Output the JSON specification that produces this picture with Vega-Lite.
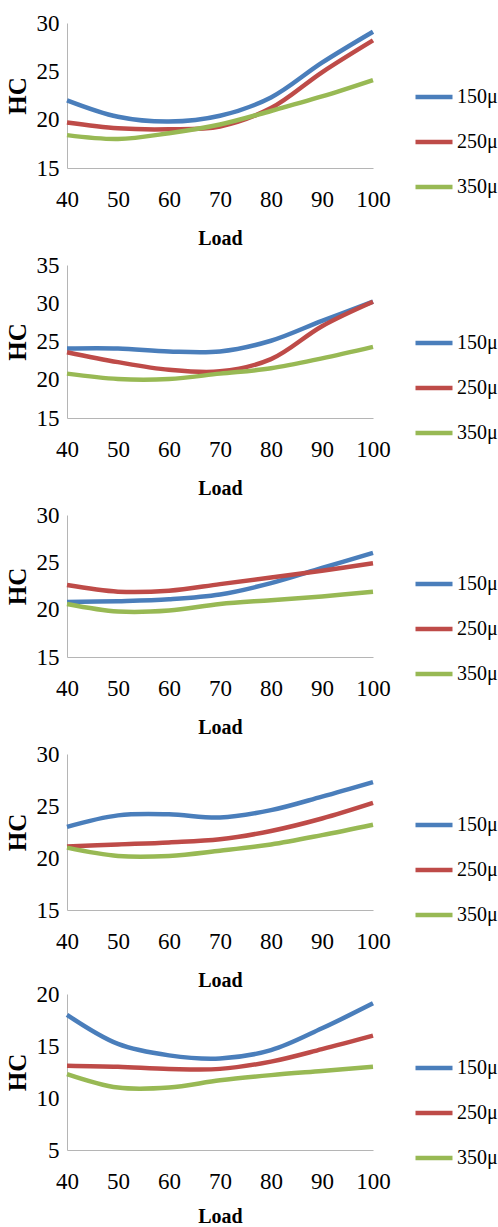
{
  "$schema": "https://vega.github.io/schema/vega-lite/v6.json",
  "padding": {"top": 12, "left": 5, "right": 0, "bottom": 0},
  "background": "white",
  "spacing": -7,
  "resolve": {"scale": {"color": "independent"}},
  "config": {
    "view": {"stroke": null},
    "font": "Liberation Serif",
    "line": {"interpolate": "catmull-rom", "strokeWidth": 4.5},
    "axis": {
      "grid": false,
      "ticks": false,
      "domainColor": "#b5b5b5",
      "domainWidth": 1,
      "labelFont": "Liberation Serif",
      "labelFontSize": 23,
      "labelColor": "#000000",
      "labelFlush": false,
      "labelOverlap": false,
      "titleFont": "Liberation Serif",
      "titleFontWeight": "bold",
      "titleColor": "#000000"
    },
    "axisX": {"labelPadding": 20, "titlePadding": 17, "titleFontSize": 20},
    "axisY": {"labelPadding": 8, "titlePadding": 6, "titleFontSize": 25},
    "legend": {
      "symbolType": "stroke",
      "symbolSize": 1369,
      "symbolStrokeWidth": 5,
      "labelFont": "Liberation Serif",
      "labelFontSize": 20,
      "labelColor": "#000000",
      "rowPadding": 14,
      "labelOffset": 2,
      "padding": 0,
      "offset": 0
    }
  },
  "datasets": {
    "p1": [
      {"load": 40, "size": "150μ", "hc": 22.0}, {"load": 50, "size": "150μ", "hc": 20.3}, {"load": 60, "size": "150μ", "hc": 19.8}, {"load": 70, "size": "150μ", "hc": 20.4}, {"load": 80, "size": "150μ", "hc": 22.3}, {"load": 90, "size": "150μ", "hc": 25.9}, {"load": 100, "size": "150μ", "hc": 29.1},
      {"load": 40, "size": "250μ", "hc": 19.7}, {"load": 50, "size": "250μ", "hc": 19.1}, {"load": 60, "size": "250μ", "hc": 19.0}, {"load": 70, "size": "250μ", "hc": 19.3}, {"load": 80, "size": "250μ", "hc": 21.2}, {"load": 90, "size": "250μ", "hc": 24.9}, {"load": 100, "size": "250μ", "hc": 28.2},
      {"load": 40, "size": "350μ", "hc": 18.4}, {"load": 50, "size": "350μ", "hc": 18.0}, {"load": 60, "size": "350μ", "hc": 18.6}, {"load": 70, "size": "350μ", "hc": 19.5}, {"load": 80, "size": "350μ", "hc": 20.9}, {"load": 90, "size": "350μ", "hc": 22.4}, {"load": 100, "size": "350μ", "hc": 24.1}
    ],
    "p2": [
      {"load": 40, "size": "150μ", "hc": 24.1}, {"load": 50, "size": "150μ", "hc": 24.1}, {"load": 60, "size": "150μ", "hc": 23.7}, {"load": 70, "size": "150μ", "hc": 23.7}, {"load": 80, "size": "150μ", "hc": 25.1}, {"load": 90, "size": "150μ", "hc": 27.7}, {"load": 100, "size": "150μ", "hc": 30.2},
      {"load": 40, "size": "250μ", "hc": 23.6}, {"load": 50, "size": "250μ", "hc": 22.3}, {"load": 60, "size": "250μ", "hc": 21.3}, {"load": 70, "size": "250μ", "hc": 21.1}, {"load": 80, "size": "250μ", "hc": 22.7}, {"load": 90, "size": "250μ", "hc": 27.0}, {"load": 100, "size": "250μ", "hc": 30.2},
      {"load": 40, "size": "350μ", "hc": 20.8}, {"load": 50, "size": "350μ", "hc": 20.1}, {"load": 60, "size": "350μ", "hc": 20.1}, {"load": 70, "size": "350μ", "hc": 20.8}, {"load": 80, "size": "350μ", "hc": 21.5}, {"load": 90, "size": "350μ", "hc": 22.8}, {"load": 100, "size": "350μ", "hc": 24.3}
    ],
    "p3": [
      {"load": 40, "size": "150μ", "hc": 20.8}, {"load": 50, "size": "150μ", "hc": 20.9}, {"load": 60, "size": "150μ", "hc": 21.1}, {"load": 70, "size": "150μ", "hc": 21.6}, {"load": 80, "size": "150μ", "hc": 22.8}, {"load": 90, "size": "150μ", "hc": 24.4}, {"load": 100, "size": "150μ", "hc": 26.0},
      {"load": 40, "size": "250μ", "hc": 22.6}, {"load": 50, "size": "250μ", "hc": 21.9}, {"load": 60, "size": "250μ", "hc": 22.0}, {"load": 70, "size": "250μ", "hc": 22.7}, {"load": 80, "size": "250μ", "hc": 23.4}, {"load": 90, "size": "250μ", "hc": 24.1}, {"load": 100, "size": "250μ", "hc": 24.9},
      {"load": 40, "size": "350μ", "hc": 20.6}, {"load": 50, "size": "350μ", "hc": 19.8}, {"load": 60, "size": "350μ", "hc": 19.9}, {"load": 70, "size": "350μ", "hc": 20.6}, {"load": 80, "size": "350μ", "hc": 21.0}, {"load": 90, "size": "350μ", "hc": 21.4}, {"load": 100, "size": "350μ", "hc": 21.9}
    ],
    "p4": [
      {"load": 40, "size": "150μ", "hc": 23.0}, {"load": 50, "size": "150μ", "hc": 24.1}, {"load": 60, "size": "150μ", "hc": 24.2}, {"load": 70, "size": "150μ", "hc": 23.9}, {"load": 80, "size": "150μ", "hc": 24.6}, {"load": 90, "size": "150μ", "hc": 25.9}, {"load": 100, "size": "150μ", "hc": 27.3},
      {"load": 40, "size": "250μ", "hc": 21.1}, {"load": 50, "size": "250μ", "hc": 21.3}, {"load": 60, "size": "250μ", "hc": 21.5}, {"load": 70, "size": "250μ", "hc": 21.8}, {"load": 80, "size": "250μ", "hc": 22.6}, {"load": 90, "size": "250μ", "hc": 23.8}, {"load": 100, "size": "250μ", "hc": 25.3},
      {"load": 40, "size": "350μ", "hc": 21.0}, {"load": 50, "size": "350μ", "hc": 20.2}, {"load": 60, "size": "350μ", "hc": 20.2}, {"load": 70, "size": "350μ", "hc": 20.7}, {"load": 80, "size": "350μ", "hc": 21.3}, {"load": 90, "size": "350μ", "hc": 22.2}, {"load": 100, "size": "350μ", "hc": 23.2}
    ],
    "p5": [
      {"load": 40, "size": "150μ", "hc": 18.0}, {"load": 50, "size": "150μ", "hc": 15.2}, {"load": 60, "size": "150μ", "hc": 14.1}, {"load": 70, "size": "150μ", "hc": 13.8}, {"load": 80, "size": "150μ", "hc": 14.6}, {"load": 90, "size": "150μ", "hc": 16.7}, {"load": 100, "size": "150μ", "hc": 19.1},
      {"load": 40, "size": "250μ", "hc": 13.1}, {"load": 50, "size": "250μ", "hc": 13.0}, {"load": 60, "size": "250μ", "hc": 12.8}, {"load": 70, "size": "250μ", "hc": 12.8}, {"load": 80, "size": "250μ", "hc": 13.5}, {"load": 90, "size": "250μ", "hc": 14.7}, {"load": 100, "size": "250μ", "hc": 16.0},
      {"load": 40, "size": "350μ", "hc": 12.3}, {"load": 50, "size": "350μ", "hc": 11.0}, {"load": 60, "size": "350μ", "hc": 11.0}, {"load": 70, "size": "350μ", "hc": 11.7}, {"load": 80, "size": "350μ", "hc": 12.2}, {"load": 90, "size": "350μ", "hc": 12.6}, {"load": 100, "size": "350μ", "hc": 13.0}
    ]
  },
  "vconcat": [
    {
      "spacing": 6,
      "resolve": {"scale": {"color": "independent"}},
      "vconcat": [
        {
          "width": 306, "height": 145,
          "data": {"name": "p1"},
          "mark": {"type": "line"},
          "encoding": {
            "x": {"field": "load", "type": "quantitative", "scale": {"domain": [40, 100], "nice": false}, "axis": {"values": [40, 50, 60, 70, 80, 90, 100], "title": "Load"}},
            "y": {"field": "hc", "type": "quantitative", "scale": {"domain": [15, 30], "nice": false, "zero": false}, "axis": {"values": [15, 20, 25, 30], "title": "HC"}},
            "color": {"field": "size", "type": "nominal", "scale": {"domain": ["150μ", "250μ", "350μ"], "range": ["#4A7EBB", "#BE4B48", "#98B954"]}, "legend": {"orient": "none", "legendX": 346, "legendY": 53, "title": null}}
          }
        },
        {
          "width": 306, "height": 153,
          "data": {"name": "p2"},
          "mark": {"type": "line"},
          "encoding": {
            "x": {"field": "load", "type": "quantitative", "scale": {"domain": [40, 100], "nice": false}, "axis": {"values": [40, 50, 60, 70, 80, 90, 100], "title": "Load"}},
            "y": {"field": "hc", "type": "quantitative", "scale": {"domain": [15, 35], "nice": false, "zero": false}, "axis": {"values": [15, 20, 25, 30, 35], "title": "HC"}},
            "color": {"field": "size", "type": "nominal", "scale": {"domain": ["150μ", "250μ", "350μ"], "range": ["#4A7EBB", "#BE4B48", "#98B954"]}, "legend": {"orient": "none", "legendX": 346, "legendY": 57, "title": null}}
          }
        },
        {
          "width": 306, "height": 142,
          "data": {"name": "p3"},
          "mark": {"type": "line"},
          "encoding": {
            "x": {"field": "load", "type": "quantitative", "scale": {"domain": [40, 100], "nice": false}, "axis": {"values": [40, 50, 60, 70, 80, 90, 100], "title": "Load"}},
            "y": {"field": "hc", "type": "quantitative", "scale": {"domain": [15, 30], "nice": false, "zero": false}, "axis": {"values": [15, 20, 25, 30], "title": "HC"}},
            "color": {"field": "size", "type": "nominal", "scale": {"domain": ["150μ", "250μ", "350μ"], "range": ["#4A7EBB", "#BE4B48", "#98B954"]}, "legend": {"orient": "none", "legendX": 346, "legendY": 48, "title": null}}
          }
        },
        {
          "width": 306, "height": 156,
          "data": {"name": "p4"},
          "mark": {"type": "line"},
          "encoding": {
            "x": {"field": "load", "type": "quantitative", "scale": {"domain": [40, 100], "nice": false}, "axis": {"values": [40, 50, 60, 70, 80, 90, 100], "title": "Load"}},
            "y": {"field": "hc", "type": "quantitative", "scale": {"domain": [15, 30], "nice": false, "zero": false}, "axis": {"values": [15, 20, 25, 30], "title": "HC"}},
            "color": {"field": "size", "type": "nominal", "scale": {"domain": ["150μ", "250μ", "350μ"], "range": ["#4A7EBB", "#BE4B48", "#98B954"]}, "legend": {"orient": "none", "legendX": 346, "legendY": 50, "title": null}}
          }
        }
      ]
    },
    {
      "width": 306, "height": 156,
      "data": {"name": "p5"},
      "mark": {"type": "line"},
      "encoding": {
        "x": {"field": "load", "type": "quantitative", "scale": {"domain": [40, 100], "nice": false}, "axis": {"values": [40, 50, 60, 70, 80, 90, 100], "title": "Load", "titlePadding": 13}},
        "y": {"field": "hc", "type": "quantitative", "scale": {"domain": [5, 20], "nice": false, "zero": false}, "axis": {"values": [5, 10, 15, 20], "title": "HC"}},
        "color": {"field": "size", "type": "nominal", "scale": {"domain": ["150μ", "250μ", "350μ"], "range": ["#4A7EBB", "#BE4B48", "#98B954"]}, "legend": {"orient": "none", "legendX": 346, "legendY": 53, "title": null}}
      }
    }
  ]
}
